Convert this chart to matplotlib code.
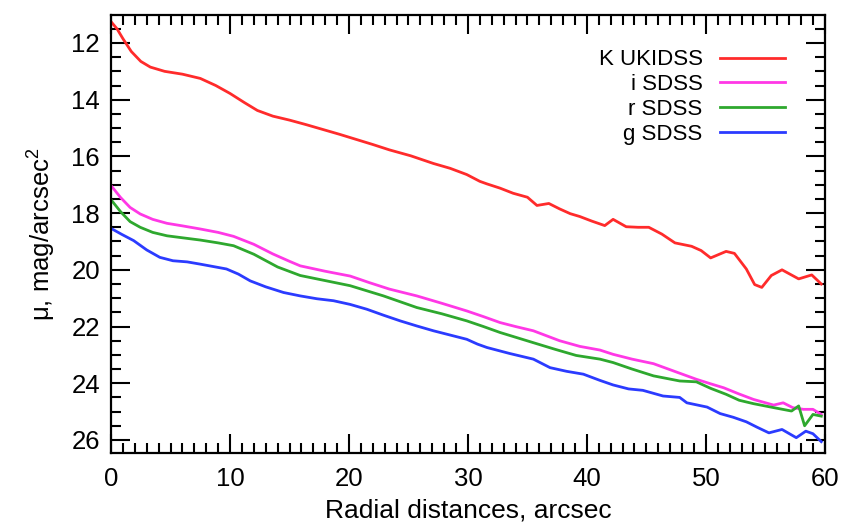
import numpy as np
import matplotlib
matplotlib.use('Agg')
import matplotlib.pyplot as plt
from matplotlib.ticker import MultipleLocator

plt.rcParams['font.family'] = ['Liberation Sans', 'DejaVu Sans']
plt.rcParams['mathtext.fontset'] = 'custom'
plt.rcParams['mathtext.rm'] = 'Liberation Sans'

# K band, UKIDSS
k_x = [0, 0.5, 1, 1.7, 2.5, 3.3, 4.5, 6, 7.5, 8.8, 10, 11.2, 12.3, 13.6, 15, 16.4, 17.8, 19.2,
       20.6, 22, 23.4, 25.2, 27.1, 28.5, 29.9, 31.0, 31.6, 32.7, 33.8, 35.0, 35.8, 36.8, 37.7,
       38.6, 39.4, 40.4, 41.5, 42.2, 43.3, 44.3, 45.2, 46.3, 47.4, 48.8, 49.6, 50.4, 51.7, 52.4,
       53.4, 54.1, 54.7, 55.5, 56.4, 57.8, 58.9, 59.7]
k_mu = [11.25, 11.5, 11.85, 12.3, 12.65, 12.85, 13.0, 13.1, 13.25, 13.5, 13.78, 14.1, 14.38,
        14.58, 14.72, 14.88, 15.05, 15.22, 15.4, 15.58, 15.77, 15.98, 16.25, 16.42, 16.64, 16.88,
        16.97, 17.12, 17.3, 17.44, 17.73, 17.66, 17.85, 18.02, 18.12, 18.28, 18.44, 18.22, 18.48,
        18.5, 18.5, 18.74, 19.05, 19.17, 19.32, 19.58, 19.35, 19.42, 19.97, 20.52, 20.62, 20.2,
        20.0, 20.32, 20.18, 20.5]

# i band, SDSS
i_x = [0, 0.8, 1.6, 2.45, 3.5, 4.7, 6, 7.5, 9, 10.3, 12, 13.6, 15, 15.9, 18, 20.1, 21.7, 23.4,
       25.7, 27.8, 29.9, 31.3, 32.7, 34, 35.5, 37.7, 39.4, 41.1, 42.2, 43.8, 45.6, 47.3, 49.2,
       50.4, 51.5, 52.8, 54.0, 55.7, 56.5, 57.3, 58.2, 59.0, 59.7]
i_mu = [17.03, 17.45, 17.8, 18.03, 18.22, 18.36, 18.45, 18.56, 18.68, 18.82, 19.1, 19.44, 19.7,
        19.86, 20.05, 20.22, 20.45, 20.68, 20.92, 21.18, 21.45, 21.65, 21.86, 22.0, 22.15, 22.5,
        22.7, 22.83, 22.98, 23.15, 23.31, 23.57, 23.86, 24.02, 24.16, 24.38, 24.57, 24.77, 24.69,
        24.86, 24.92, 24.92, 25.1]

# r band, SDSS
r_x = [0, 0.8, 1.6, 2.45, 3.5, 4.7, 6, 7.5, 9, 10.3, 12, 14, 15.9, 18, 20.1, 22.9, 25.7, 27.8,
       29.9, 31.3, 32.7, 35.5, 37.3, 39.1, 41.1, 42.2, 43.8, 45.6, 47.8, 49.2, 50.4, 51.7, 52.8,
       54.0, 55.7, 57.2, 57.8, 58.3, 59.0, 59.7]
r_mu = [17.53, 17.95, 18.3, 18.5, 18.68, 18.8, 18.87, 18.95, 19.05, 19.15, 19.45, 19.9, 20.2,
        20.38, 20.56, 20.92, 21.33, 21.55, 21.8, 22.0, 22.21, 22.57, 22.8, 23.02, 23.15, 23.27,
        23.5, 23.74, 23.92, 23.95, 24.18, 24.39, 24.6, 24.72, 24.86, 24.98, 24.8, 25.5, 25.1, 25.16]

# g band, SDSS
g_x = [0, 0.9, 1.9, 3, 4.1, 5.2, 6.4, 7.5, 9.7, 10.7, 11.7, 13, 14.5, 15.9, 17.3, 18.7, 20.1,
       21.5, 22.9, 24.3, 25.7, 27.1, 28.5, 29.9, 30.8, 31.6, 33.5, 35.5, 36.9, 38.3, 39.7, 41.1,
       42.2, 43.5, 44.7, 46.4, 47.8, 48.4, 50.1, 51.2, 52.3, 53.4, 54.3, 55.3, 56.4, 57.6, 58.4,
       59.0, 59.7]
g_mu = [18.54, 18.75, 18.97, 19.3, 19.56, 19.68, 19.72, 19.8, 19.97, 20.15, 20.39, 20.6, 20.8,
        20.92, 21.02, 21.09, 21.22, 21.39, 21.6, 21.8, 21.98, 22.15, 22.3, 22.45, 22.62, 22.74,
        22.95, 23.15, 23.45, 23.58, 23.68, 23.9, 24.06, 24.2, 24.25, 24.45, 24.5, 24.69, 24.84,
        25.07, 25.2, 25.36, 25.55, 25.75, 25.63, 25.92, 25.69, 25.78, 26.06]

labels = ['K UKIDSS', 'i SDSS', 'r SDSS', 'g SDSS']
colors = ['#ff2b2b', '#ff38e6', '#2ea82e', '#2b3bff']

fig = plt.figure(figsize=(8.61, 5.24), dpi=100)
ax = fig.add_axes([0.129, 0.1355, 0.829, 0.8355])

series = [(k_x, k_mu), (i_x, i_mu), (r_x, r_mu), (g_x, g_mu)]
for (xs, ys), lab, col in zip(series, labels, colors):
    ax.plot(xs, ys, color=col, lw=2.0, label=lab)

ax.set_xlim(0, 60)
ax.set_ylim(26.46, 11.02)

ax.xaxis.set_major_locator(MultipleLocator(10))
ax.xaxis.set_minor_locator(MultipleLocator(1))
ax.yaxis.set_major_locator(MultipleLocator(2))
ax.yaxis.set_minor_locator(MultipleLocator(0.5))
ax.tick_params(which='both', direction='in', top=True, right=True, width=1.5, labelsize=18.5)
ax.tick_params(which='major', length=14)
ax.tick_params(which='minor', length=7)
ax.tick_params(axis='x', which='major', pad=10)
ax.tick_params(axis='y', which='major', pad=8)
for sp in ax.spines.values():
    sp.set_linewidth(1.6)

ax.set_xlabel('Radial distances, arcsec', fontsize=19)
ax.set_ylabel('μ, mag/arcsec$^{2}$', fontsize=18.5)
ax.xaxis.set_label_coords(0.5, -0.103)
ax.yaxis.set_label_coords(-0.076, 0.5)

leg = ax.legend(loc='upper right', frameon=False, markerfirst=False, fontsize=16,
                handlelength=2.93, handletextpad=0.77, labelspacing=0.17,
                borderpad=0.0, borderaxespad=0.0, bbox_to_anchor=(0.944, 0.922))

fig.savefig('out.png', dpi=100)
